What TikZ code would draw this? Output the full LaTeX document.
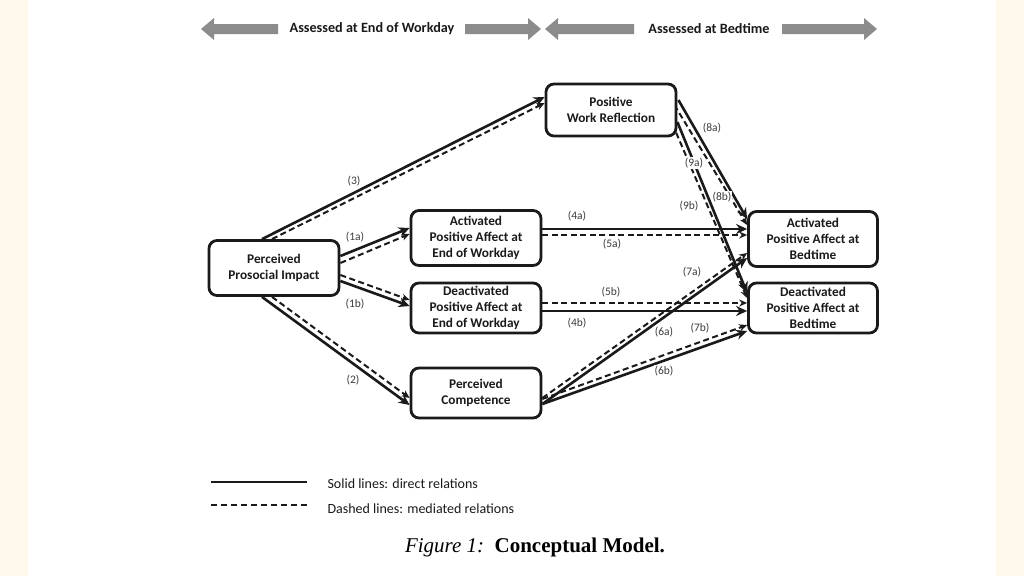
\documentclass[tikz,border=0pt]{standalone}
\usepackage{fontspec}
\setmainfont{Carlito}
\newfontfamily\capfont{Liberation Serif}
\usetikzlibrary{calc,backgrounds,arrows.meta}
\definecolor{cream}{HTML}{FFF9EC}
\definecolor{bargray}{HTML}{8C8C8C}
\definecolor{ink}{HTML}{1A1A1A}
\begin{document}
\begin{tikzpicture}[x=1pt,y=-1pt,
  box/.style={draw=ink, line width=2.8pt, rounded corners=8pt, fill=white, align=center,
    font=\bfseries\fontsize{13.3}{16}\selectfont, text=ink, inner sep=0pt, minimum width=130pt},
  sline/.style={draw=ink, line width=2.6pt, -{Stealth[length=11pt,width=10pt]}},
  dline/.style={draw=ink, line width=2pt, dash pattern=on 6pt off 3.5pt, -{Stealth[length=8pt,width=7pt]}},
  legsolid/.style={draw=ink, line width=2.8pt},
  legdash/.style={draw=ink, line width=2pt, dash pattern=on 6pt off 4pt},
  lab/.style={font=\fontsize{11.5}{12}\selectfont, fill=white, inner sep=1pt, text=ink!85},
  headtxt/.style={font=\bfseries\fontsize{14.2}{15}\selectfont, text=ink},
  legtxt/.style={font=\fontsize{14}{15}\selectfont, text=ink, anchor=west},
  blockarrow/.style={fill=bargray}
]
\useasboundingbox (0,0) rectangle (1024,576);

% boxes
\node[box, minimum height=55pt] (pi)  at (274,268) {Perceived\\Prosocial Impact};
\node[box, minimum height=52pt] (pwr) at (611,110) {Positive\\Work Reflection};
\node[box, minimum height=55pt] (ae)  at (476,238) {Activated\\Positive Affect at\\End of Workday};
\node[box, minimum height=50pt] (de)  at (476,308) {Deactivated\\Positive Affect at\\End of Workday};
\node[box, minimum height=50pt] (pc)  at (476,393) {Perceived\\Competence};
\node[box, minimum height=55pt, minimum width=129pt] (ab) at (813,239) {Activated\\Positive Affect at\\Bedtime};
\node[box, minimum height=50pt, minimum width=129pt] (db) at (813,308) {Deactivated\\Positive Affect at\\Bedtime};

\begin{pgfonlayer}{background}
\fill[white] (0,0) rectangle (1024,576);
\fill[cream] (0,0) rectangle (28,576);
\fill[cream] (996,0) rectangle (1024,576);

% (3)
\draw[sline] ($(pi.north)+(-12,0)$) -- ($(pwr.west)+(0,-13)$);
\draw[dline] ($(pi.north)+(-2,0)$) -- ($(pwr.west)+(0,-7)$);
% (1a)
\draw[sline] ($(pi.east)+(0,-12)$) -- ($(ae.west)+(0,-10)$);
\draw[dline] ($(pi.east)+(0,-5)$) -- ($(ae.west)+(0,-4)$);
% (1b)
\draw[dline] ($(pi.east)+(0,7)$) -- ($(de.west)+(0,-8)$);
\draw[sline] ($(pi.east)+(0,13)$) -- ($(de.west)+(0,-2)$);
% (2)
\draw[sline] ($(pi.south)+(-12,0)$) -- ($(pc.west)+(0,12)$);
\draw[dline] ($(pi.south)+(-2,0)$) -- ($(pc.west)+(0,5)$);
% (4a) (5a)
\draw[sline] ($(ae.east)+(0,-9)$) -- ($(ab.west)+(0,-10)$);
\draw[dline] ($(ae.east)+(0,-3)$) -- ($(ab.west)+(0,-4)$);
% (5b) (4b)
\draw[dline] ($(de.east)+(0,-5)$) -- ($(db.west)+(0,-5)$);
\draw[sline] ($(de.east)+(0,3)$) -- ($(db.west)+(0,3)$);
% (6a) (7a)
\draw[sline] ($(pc.east)+(0,11)$) -- ($(ab.west)+(0,19)$);
\draw[dline] ($(pc.east)+(0,5)$) -- ($(ab.west)+(0,14)$);
% (6b) (7b)
\draw[sline] ($(pc.east)+(0,11)$) -- ($(db.west)+(0,23)$);
\draw[dline] ($(pc.east)+(0,6)$) -- ($(db.west)+(0,17)$);
% (8a) (8b)
\draw[sline] ($(pwr.east)+(1,-10)$) -- ($(ab.west)+(0,-20)$);
\draw[dline] ($(pwr.east)+(-3,-5)$) -- ($(ab.west)+(0,-14)$);
% (9a) (9b)
\draw[sline] ($(pwr.east)+(0,12)$) -- ($(db.west)+(0,-15)$);
\draw[dline] ($(pwr.east)+(-5,14)$) -- ($(db.west)+(0,-10)$);
\end{pgfonlayer}

% labels
\node[lab] (l3)  at (354,181) {(3)};
\node[lab] (l1a) at (355,237) {(1a)};
\node[lab] (l1b) at (355,304) {(1b)};
\node[lab] (l2)  at (353,380) {(2)};
\node[lab] (l4a) at (577,216) {(4a)};
\node[lab] (l5a) at (612,244) {(5a)};
\node[lab] (l5b) at (611,292) {(5b)};
\node[lab] (l4b) at (577,323) {(4b)};
\node[lab] (l7a) at (692,272) {(7a)};
\node[lab] (l6a) at (664,332) {(6a)};
\node[lab] (l7b) at (700,328) {(7b)};
\node[lab] (l6b) at (664,371) {(6b)};
\node[lab] (l8a) at (712,128) {(8a)};
\node[lab] (l9a) at (694,163) {(9a)};
\node[lab] (l8b) at (722,197) {(8b)};
\node[lab] (l9b) at (689,206) {(9b)};

% header block arrows
\fill[blockarrow] (201,29) -- (214,18) -- (214,24) -- (278,24) -- (278,34) -- (214,34) -- (214,40) -- cycle;
\fill[blockarrow] (541,29) -- (528,18) -- (528,24) -- (465,24) -- (465,34) -- (528,34) -- (528,40) -- cycle;
\fill[blockarrow] (545,29) -- (558,18) -- (558,24) -- (634,24) -- (634,34) -- (558,34) -- (558,40) -- cycle;
\fill[blockarrow] (877,29) -- (864,18) -- (864,24) -- (782,24) -- (782,34) -- (864,34) -- (864,40) -- cycle;
\node[headtxt] (h1) at (372,29) {Assessed at End of Workday};
\node[headtxt] (h2) at (709,29) {Assessed at Bedtime};

% legend
\coordinate (ls1) at (211,482);
\coordinate (ls2) at (307,482);
\coordinate (ld1) at (211,505);
\coordinate (ld2) at (307,505);
\draw[legsolid] (ls1) -- (ls2);
\draw[legdash] (ld1) -- (ld2);
\node[legtxt] (lt1) at (324,484) {Solid lines: direct relations};
\node[legtxt] (lt2) at (324,509) {Dashed lines: mediated relations};

% caption
\node (cap) at (535,547) {\capfont\fontsize{21}{24}\selectfont\textit{Figure 1:}\ \ \textbf{Conceptual Model.}};
\end{tikzpicture}
\end{document}
